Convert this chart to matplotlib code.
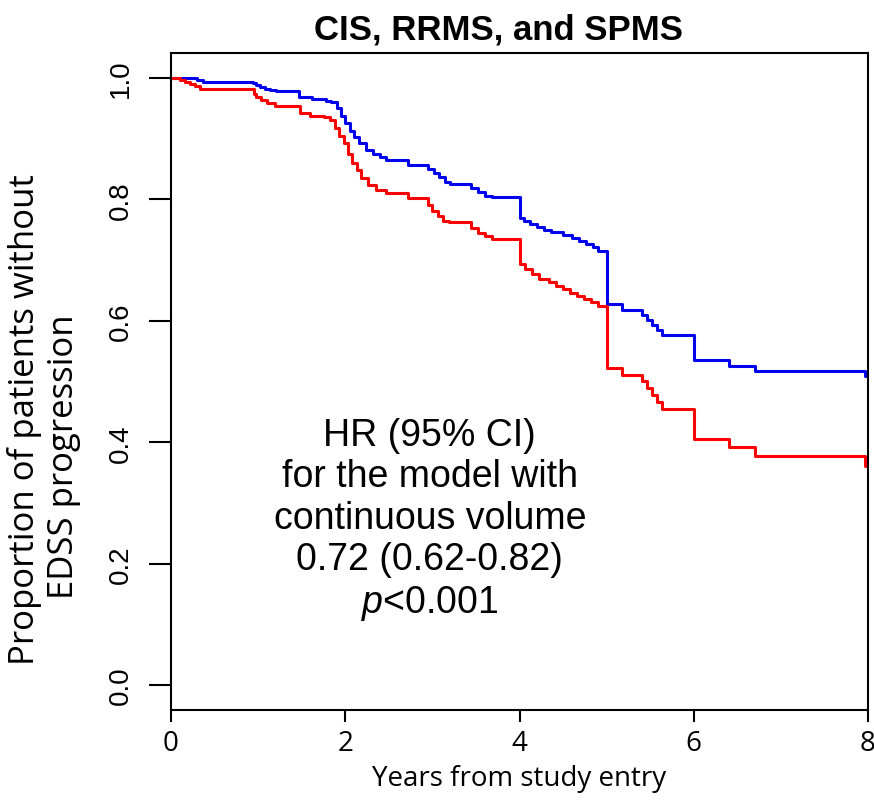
import matplotlib
matplotlib.use("Agg")
import matplotlib.pyplot as plt

# Kaplan-Meier style step data (years, proportion without progression)
blue_t = [0, 0.30, 0.37, 0.94, 0.97, 1.02, 1.08, 1.14, 1.20, 1.47, 1.62, 1.78, 1.84,
          1.90, 1.95, 2.00, 2.05, 2.10, 2.16, 2.24, 2.32, 2.40, 2.47, 2.72, 2.95, 3.02,
          3.08, 3.14, 3.20, 3.44, 3.52, 3.60, 3.68, 4.00, 4.05, 4.12, 4.20, 4.28, 4.36,
          4.50, 4.60, 4.68, 4.76, 4.84, 4.90, 5.00, 5.18, 5.40, 5.46, 5.52, 5.58, 5.64,
          6.00, 6.40, 6.70, 7.97, 8.0]
blue_s = [1.0, 0.997, 0.994, 0.991, 0.988, 0.985, 0.982, 0.980, 0.978, 0.968, 0.965, 0.962, 0.960,
          0.950, 0.938, 0.925, 0.912, 0.903, 0.892, 0.882, 0.875, 0.870, 0.864, 0.857, 0.850, 0.843,
          0.836, 0.829, 0.825, 0.818, 0.812, 0.806, 0.804, 0.770, 0.765, 0.760, 0.755, 0.750, 0.746,
          0.742, 0.736, 0.731, 0.726, 0.721, 0.715, 0.628, 0.618, 0.610, 0.601, 0.593, 0.585, 0.577,
          0.535, 0.526, 0.517, 0.509, 0.509]

red_t = [0, 0.10, 0.16, 0.22, 0.28, 0.33, 0.95, 0.98, 1.03, 1.10, 1.19, 1.48, 1.60, 1.75,
         1.83, 1.88, 1.93, 1.98, 2.03, 2.08, 2.13, 2.18, 2.26, 2.35, 2.47, 2.72, 2.95, 3.00,
         3.06, 3.12, 3.19, 3.44, 3.52, 3.60, 3.68, 4.00, 4.06, 4.14, 4.22, 4.34, 4.42, 4.50,
         4.58, 4.66, 4.74, 4.82, 4.90, 5.00, 5.18, 5.40, 5.46, 5.52, 5.58, 5.64, 6.00, 6.40,
         6.70, 7.97, 8.0]
red_s = [1.0, 0.997, 0.993, 0.990, 0.987, 0.981, 0.974, 0.968, 0.963, 0.958, 0.954, 0.942, 0.938, 0.935,
         0.930, 0.918, 0.905, 0.892, 0.875, 0.860, 0.848, 0.835, 0.824, 0.815, 0.810, 0.802, 0.790, 0.780,
         0.772, 0.765, 0.762, 0.752, 0.745, 0.740, 0.735, 0.694, 0.685, 0.677, 0.669, 0.664, 0.658, 0.652,
         0.646, 0.641, 0.636, 0.631, 0.625, 0.522, 0.510, 0.500, 0.490, 0.478, 0.466, 0.455, 0.405, 0.392,
         0.378, 0.361, 0.361]

x_ticks = [0, 2, 4, 6, 8]
y_ticks = [0.0, 0.2, 0.4, 0.6, 0.8, 1.0]

plt.rcParams['mathtext.fontset'] = 'custom'
plt.rcParams['mathtext.rm'] = 'Liberation Sans'
plt.rcParams['mathtext.it'] = 'Liberation Sans:italic'

fig = plt.figure(figsize=(8.74, 8.03), dpi=100)
ax = fig.add_axes([0.1957, 0.1146, 0.7975, 0.8182])

ax.step(blue_t, blue_s, where='post', color='#0000ee', lw=2.2)
ax.step(red_t, red_s, where='post', color='#ff0000', lw=2.2)

ax.set_xlim(0, 8)
ax.set_ylim(-0.041, 1.041)

ax.set_xticks(x_ticks)
ax.set_xticklabels([str(v) for v in x_ticks], fontfamily='Open Sans', fontsize=20)
ax.set_yticks(y_ticks)
ax.set_yticklabels([f'{v:.1f}' for v in y_ticks], fontfamily='Liberation Sans',
                   fontsize=20, rotation=90, va='center')
ax.tick_params(axis='y', length=16, width=1.5, pad=11)
ax.tick_params(axis='x', length=8.6, width=1.5, pad=5)
for s in ax.spines.values():
    s.set_linewidth(1.5)

ax.set_xlabel('Years from study entry', fontfamily='Open Sans', fontsize=20, labelpad=5)

fig.text(0.570, 0.963, 'CIS, RRMS, and SPMS', ha='center', va='center',
         fontfamily='Liberation Sans', fontweight='bold', fontsize=25)

fig.text(0.0286, 0.477, 'Proportion of patients without', rotation=90,
         ha='center', va='center', fontfamily='Open Sans', fontsize=25)
fig.text(0.0732, 0.431, 'EDSS progression', rotation=90,
         ha='center', va='center', fontfamily='Open Sans', fontsize=25)

ax.text(2.97, 0.273,
        'HR (95% CI)\nfor the model with\ncontinuous volume\n0.72 (0.62-0.82)\n$\\mathit{p}$<0.001',
        ha='center', va='center', fontfamily='Liberation Sans', fontsize=27,
        linespacing=1.2)

fig.savefig('out.png', dpi=100)
